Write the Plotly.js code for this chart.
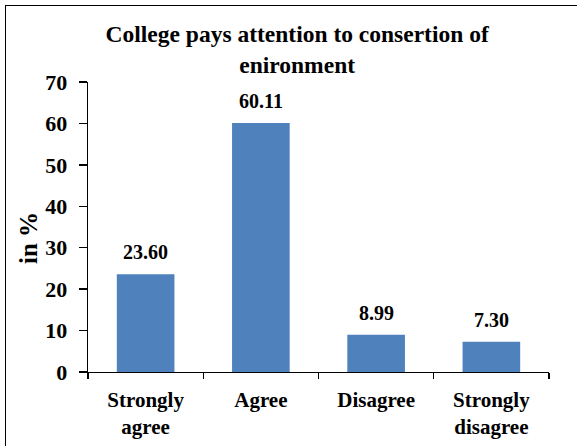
<!DOCTYPE html>
<html>
<head>
<meta charset="utf-8">
<script src="https://cdn.plot.ly/plotly-3.0.1.min.js"></script>
<style>
html,body{margin:0;padding:0;background:#fff;}
#wrap{position:relative;width:577px;height:446px;overflow:hidden;}
#chart{width:577px;height:446px;}
#frame{position:absolute;left:5px;top:5px;width:600px;height:500px;border:1.5px solid #000;pointer-events:none;box-sizing:border-box;}
</style>
</head>
<body>
<div id="wrap">
<div id="chart"></div>
<div id="frame"></div>
</div>
<script>
const categories = ["Strongly<br>agree", "Agree", "Disagree", "Strongly<br>disagree"];
const values = [23.60, 60.11, 8.99, 7.30];
const yTicks = [0, 10, 20, 30, 40, 50, 60, 70];
const chartTitle = "College pays attention to consertion of<br>enironment";
const yTitle = "in %";

const FONT = "Liberation Serif, Times New Roman, serif";

const trace = {
  type: "bar",
  x: categories,
  y: values,
  marker: {color: "#4F81BD", line: {width: 0}},
  hoverinfo: "none"
};

const annotations = categories.map((c, i) => ({
  x: c, y: values[i], xref: "x", yref: "y",
  text: "<b>" + values[i].toFixed(2) + "</b>",
  showarrow: false, yanchor: "bottom", yshift: 9,
  font: {family: FONT, size: 20, color: "#000"}
}));
annotations.push({
  xref: "paper", yref: "paper", x: (28 - 88) / 461, y: (372 - 238) / 290,
  xanchor: "center", yanchor: "middle", textangle: -90, showarrow: false,
  text: "<b>" + yTitle + "</b>",
  font: {family: FONT, size: 25, color: "#000"}
});

const layout = {
  width: 577, height: 446,
  margin: {l: 88, r: 28, t: 82, b: 74},
  paper_bgcolor: "#fff", plot_bgcolor: "#fff",
  showlegend: false,
  bargap: 0.5,
  font: {family: FONT, color: "#000"},
  title: {
    text: "<b>" + chartTitle + "</b>",
    font: {family: FONT, size: 23.5, color: "#000"},
    xref: "container", x: 0.515, xanchor: "center",
    yref: "container", y: 0.905, yanchor: "top"
  },
  xaxis: {
    type: "category",
    showline: true, linecolor: "#000", linewidth: 1.3,
    ticks: "outside", tickson: "boundaries", ticklen: 6, tickcolor: "#000", tickwidth: 1.3,
    ticklabelstandoff: 8,
    tickfont: {family: FONT, size: 21, color: "#000", weight: "bold"},
    showgrid: false, zeroline: false, fixedrange: true
  },
  yaxis: {
    range: [0, 70],
    tickvals: yTicks,
    ticktext: yTicks.map(v => "<b>" + v + "</b>"),
    showline: true, linecolor: "#000", linewidth: 1.3,
    ticks: "outside", ticklen: 8, tickcolor: "#000", tickwidth: 1.3,
    ticklabelstandoff: 7,
    tickfont: {family: FONT, size: 22, color: "#000"},
    showgrid: false, zeroline: false, fixedrange: true
  },
  annotations: annotations
};

Plotly.newPlot("chart", [trace], layout, {staticPlot: true, displayModeBar: false});
</script>
</body>
</html>
